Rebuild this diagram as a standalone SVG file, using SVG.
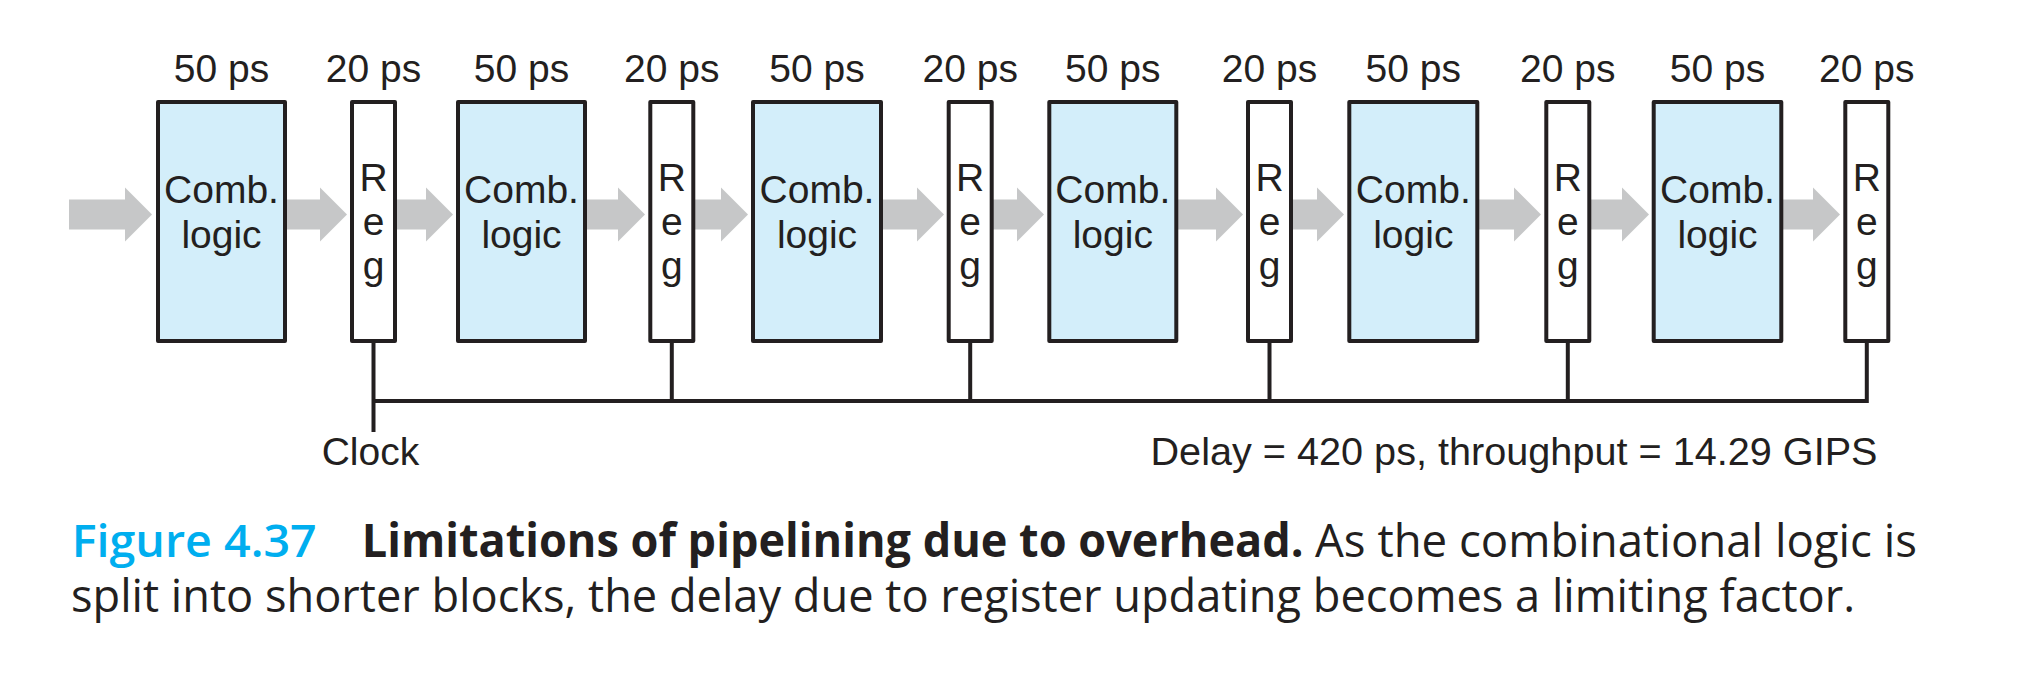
<svg xmlns="http://www.w3.org/2000/svg" width="2026" height="698" viewBox="0 0 2026 698">
<style>
.comb{fill:#d3eefa;stroke:#231f20;stroke-width:4;stroke-linejoin:round}
.reg{fill:#ffffff;stroke:#231f20;stroke-width:4;stroke-linejoin:round}
.lbl{font-family:"Liberation Sans",Arial,sans-serif;font-size:39px;fill:#231f20}
.mid{text-anchor:middle}
.arrow{fill:#c6c7c8}
.wire{fill:none;stroke:#231f20;stroke-width:4}
.cap{font-family:"Open Sans","Noto Sans",sans-serif;font-size:46px;fill:#231f20}
</style>
<rect width="2026" height="698" fill="#ffffff"/>
<g id="arrows">
<polygon class="arrow" points="69,199.5 125,199.5 125,187.5 152,214.5 125,241.5 125,229.5 69,229.5"/>
<polygon class="arrow" points="287,199.5 320,199.5 320,187.5 347,214.5 320,241.5 320,229.5 287,229.5"/>
<polygon class="arrow" points="397,199.5 426,199.5 426,187.5 453,214.5 426,241.5 426,229.5 397,229.5"/>
<polygon class="arrow" points="587,199.5 618,199.5 618,187.5 645,214.5 618,241.5 618,229.5 587,229.5"/>
<polygon class="arrow" points="695,199.5 721,199.5 721,187.5 748,214.5 721,241.5 721,229.5 695,229.5"/>
<polygon class="arrow" points="882,199.5 917,199.5 917,187.5 944,214.5 917,241.5 917,229.5 882,229.5"/>
<polygon class="arrow" points="993,199.5 1017,199.5 1017,187.5 1044,214.5 1017,241.5 1017,229.5 993,229.5"/>
<polygon class="arrow" points="1178,199.5 1216,199.5 1216,187.5 1243,214.5 1216,241.5 1216,229.5 1178,229.5"/>
<polygon class="arrow" points="1293,199.5 1317,199.5 1317,187.5 1344,214.5 1317,241.5 1317,229.5 1293,229.5"/>
<polygon class="arrow" points="1478,199.5 1514,199.5 1514,187.5 1541,214.5 1514,241.5 1514,229.5 1478,229.5"/>
<polygon class="arrow" points="1591,199.5 1622,199.5 1622,187.5 1649,214.5 1622,241.5 1622,229.5 1591,229.5"/>
<polygon class="arrow" points="1783,199.5 1813,199.5 1813,187.5 1840,214.5 1813,241.5 1813,229.5 1783,229.5"/>
</g>
<g id="clock-wires">
<path class="wire" d="M1866.8,341 V401 H373.5"/>
<path class="wire" d="M373.5,341 V432"/>
<path class="wire" d="M671.8,341 V401"/>
<path class="wire" d="M970.2,341 V401"/>
<path class="wire" d="M1269.5,341 V401"/>
<path class="wire" d="M1567.8,341 V401"/>
</g>
<g id="comb1"><rect class="comb" x="158" y="102" width="127" height="239"/><text class="lbl mid" x="221.5" y="82.3">50 ps</text><text class="lbl mid" x="221.5" y="203.3">Comb.</text><text class="lbl mid" x="221.5" y="248.3">logic</text></g>
<g id="reg1"><rect class="reg" x="352" y="102" width="43" height="239"/><text class="lbl mid" x="373.5" y="82.3">20 ps</text><text class="lbl mid" x="373.5" y="190.7">R</text><text class="lbl mid" x="373.5" y="235">e</text><text class="lbl mid" x="373.5" y="278.5">g</text></g>
<g id="comb2"><rect class="comb" x="458" y="102" width="127" height="239"/><text class="lbl mid" x="521.5" y="82.3">50 ps</text><text class="lbl mid" x="521.5" y="203.3">Comb.</text><text class="lbl mid" x="521.5" y="248.3">logic</text></g>
<g id="reg2"><rect class="reg" x="650.3" y="102" width="43" height="239"/><text class="lbl mid" x="671.8" y="82.3">20 ps</text><text class="lbl mid" x="671.8" y="190.7">R</text><text class="lbl mid" x="671.8" y="235">e</text><text class="lbl mid" x="671.8" y="278.5">g</text></g>
<g id="comb3"><rect class="comb" x="753" y="102" width="128" height="239"/><text class="lbl mid" x="817" y="82.3">50 ps</text><text class="lbl mid" x="817" y="203.3">Comb.</text><text class="lbl mid" x="817" y="248.3">logic</text></g>
<g id="reg3"><rect class="reg" x="948.7" y="102" width="43" height="239"/><text class="lbl mid" x="970.2" y="82.3">20 ps</text><text class="lbl mid" x="970.2" y="190.7">R</text><text class="lbl mid" x="970.2" y="235">e</text><text class="lbl mid" x="970.2" y="278.5">g</text></g>
<g id="comb4"><rect class="comb" x="1049.3" y="102" width="127" height="239"/><text class="lbl mid" x="1112.8" y="82.3">50 ps</text><text class="lbl mid" x="1112.8" y="203.3">Comb.</text><text class="lbl mid" x="1112.8" y="248.3">logic</text></g>
<g id="reg4"><rect class="reg" x="1248" y="102" width="43" height="239"/><text class="lbl mid" x="1269.5" y="82.3">20 ps</text><text class="lbl mid" x="1269.5" y="190.7">R</text><text class="lbl mid" x="1269.5" y="235">e</text><text class="lbl mid" x="1269.5" y="278.5">g</text></g>
<g id="comb5"><rect class="comb" x="1349.3" y="102" width="128" height="239"/><text class="lbl mid" x="1413.3" y="82.3">50 ps</text><text class="lbl mid" x="1413.3" y="203.3">Comb.</text><text class="lbl mid" x="1413.3" y="248.3">logic</text></g>
<g id="reg5"><rect class="reg" x="1546.3" y="102" width="43" height="239"/><text class="lbl mid" x="1567.8" y="82.3">20 ps</text><text class="lbl mid" x="1567.8" y="190.7">R</text><text class="lbl mid" x="1567.8" y="235">e</text><text class="lbl mid" x="1567.8" y="278.5">g</text></g>
<g id="comb6"><rect class="comb" x="1653.7" y="102" width="127.6" height="239"/><text class="lbl mid" x="1717.5" y="82.3">50 ps</text><text class="lbl mid" x="1717.5" y="203.3">Comb.</text><text class="lbl mid" x="1717.5" y="248.3">logic</text></g>
<g id="reg6"><rect class="reg" x="1845.3" y="102" width="43" height="239"/><text class="lbl mid" x="1866.8" y="82.3">20 ps</text><text class="lbl mid" x="1866.8" y="190.7">R</text><text class="lbl mid" x="1866.8" y="235">e</text><text class="lbl mid" x="1866.8" y="278.5">g</text></g>
<g id="labels">
<text class="lbl" x="321.7" y="465">Clock</text>
<text class="lbl" x="1150.5" y="465" textLength="727" lengthAdjust="spacingAndGlyphs">Delay = 420 ps, throughput = 14.29 GIPS</text>
</g>
<g id="caption">
<text class="cap" x="71.7" y="557" style="fill:#00aeef;font-weight:600" textLength="245" lengthAdjust="spacingAndGlyphs">Figure 4.37</text>
<text class="cap" x="361.7" y="557" style="font-weight:700" textLength="942" lengthAdjust="spacingAndGlyphs">Limitations of pipelining due to overhead.</text>
<text class="cap" x="1315" y="557" textLength="602" lengthAdjust="spacingAndGlyphs">As the combinational logic is</text>
<text class="cap" x="71" y="612" textLength="1784" lengthAdjust="spacingAndGlyphs">split into shorter blocks, the delay due to register updating becomes a limiting factor.</text>
</g>
</svg>
